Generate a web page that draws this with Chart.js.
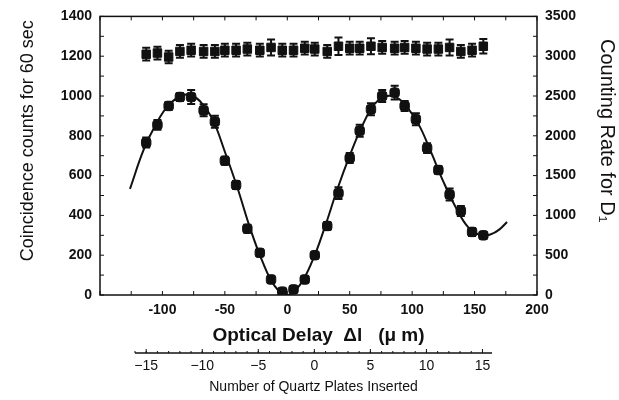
<!DOCTYPE html>
<html>
<head>
<meta charset="utf-8">
<script src="https://cdn.jsdelivr.net/npm/chart.js@4.4.1/dist/chart.umd.min.js"></script>
<style>
body{margin:0;background:#fff;}
#wrap{position:relative;width:619px;height:400px;}
#wrap canvas{position:absolute;left:0;top:0;}
</style>
</head>
<body>
<div id="wrap">
<canvas id="mainchart" width="619" height="400"></canvas>
<canvas id="platechart" width="619" height="400"></canvas>
</div>
<script>
// optical delay of each measured point (um)
const delays = [-113,-104,-95,-86,-77,-67,-58,-50,-41,-32,-22,-13,-4,5,14,22,32,41,50,58,67,76,86,94,103,112,121,130,139,148,157];
// coincidence counts per 60 s
const coincCounts = [766,855,950,995,995,928,871,675,553,333,212,78,17,28,78,200,347,512,688,825,933,1000,1017,950,883,738,628,505,422,317,300];
const coincErr = [25,25,20,20,35,30,30,20,20,20,15,15,12,12,15,15,20,30,25,30,30,30,35,25,30,25,20,30,25,20,15];
// single counting rate of D1
const singlesRate = [3025,3040,2990,3060,3075,3060,3060,3075,3075,3090,3075,3110,3075,3075,3100,3090,3060,3125,3100,3100,3125,3110,3100,3110,3100,3090,3090,3110,3060,3075,3125];
const singlesErr = [80,80,80,80,80,80,80,80,80,80,80,100,80,80,80,80,80,110,80,80,100,80,80,80,80,80,80,100,80,80,90];
// fitted curve
const fitDelay = [-126,-115,-105,-95,-85,-78,-70,-60,-50,-40,-30,-20,-10,0,10,20,30,40,50,60,70,80,88,95,105,115,125,135,145,155,163,170,176];
const fitCounts = [533,730,860,955,1000,1005,975,885,720,540,340,170,45,0,50,170,340,530,700,850,960,1000,990,950,860,720,570,440,340,300,305,330,367];
// tick labels
const delayTicks = [-100,-50,0,50,100,150,200];
const plateTicks = [-15,-10,-5,0,5,10,15];

const ink = '#111';

/** error bars drawn through the dataset scales */
const errorBarPlugin = {
    id:'errorBars',
    afterDatasetsDraw(chart){
        const ctx = chart.ctx;
        chart.data.datasets.forEach((ds)=>{
            if(!ds.errors) return;
            const xs = chart.scales[ds.xAxisID || 'x'];
            const ys = chart.scales[ds.yAxisID || 'y'];
            ctx.save();
            ctx.strokeStyle = ink;
            ctx.lineWidth = 2;
            ds.data.forEach((p,j)=>{
                const e = ds.errors[j];
                const px = xs.getPixelForValue(p.x);
                const top = ys.getPixelForValue(p.y + e);
                const bot = ys.getPixelForValue(p.y - e);
                const w = ds.capWidth || 4;
                ctx.beginPath();
                ctx.moveTo(px,top); ctx.lineTo(px,bot);
                ctx.moveTo(px-w,top); ctx.lineTo(px+w,top);
                ctx.moveTo(px-w,bot); ctx.lineTo(px+w,bot);
                ctx.stroke();
            });
            ctx.restore();
        });
    }
};

/** box frame + inward tick marks */
const framePlugin = {
    id:'frame',
    afterDatasetsDraw(chart, args, opts){
        const ctx = chart.ctx;
        const a = chart.chartArea;
        ctx.save();
        ctx.strokeStyle = ink;
        ctx.lineWidth = 1.5;
        if(opts.box){
            ctx.strokeRect(a.left,a.top,a.right-a.left,a.bottom-a.top);
        }else{
            ctx.beginPath();
            ctx.moveTo(a.left,a.bottom); ctx.lineTo(a.right,a.bottom);
            ctx.stroke();
        }
        ctx.lineWidth = 1;
        (opts.ticks || []).forEach(t=>{
            const s = chart.scales[t.scale];
            for(let v=Math.ceil(s.min/t.step)*t.step; v<=s.max; v+=t.step){
                const p = s.getPixelForValue(v);
                ctx.beginPath();
                if(t.side==='bottom'){ ctx.moveTo(p,a.bottom); ctx.lineTo(p,a.bottom-t.len); }
                if(t.side==='top'){ ctx.moveTo(p,a.top); ctx.lineTo(p,a.top+t.len); }
                if(t.side==='left'){ ctx.moveTo(a.left,p); ctx.lineTo(a.left+t.len,p); }
                if(t.side==='right'){ ctx.moveTo(a.right,p); ctx.lineTo(a.right-t.len,p); }
                ctx.stroke();
            }
        });
        ctx.restore();
    }
};

const tickFont = {family:'Liberation Sans', size:14, weight:'bold'};
const plain = (v)=>String(v);

new Chart('mainchart',{
    type:'scatter',
    data:{
        datasets:[{
            label:'fit',
            type:'line',
            data: fitDelay.map((x,i)=>({x:x,y:fitCounts[i]})),
            borderColor: ink,
            borderWidth: 2,
            pointRadius: 0,
            tension: 0.4,
            fill:false
        },{
            label:'coincidence',
            data: delays.map((x,i)=>({x:x,y:coincCounts[i]})),
            errors: coincErr,
            capWidth: 4,
            pointStyle:'rectRounded',
            pointRadius: 5.5,
            backgroundColor: ink,
            borderColor: ink
        },{
            label:'singles',
            data: delays.map((x,i)=>({x:x,y:singlesRate[i]})),
            errors: singlesErr,
            capWidth: 4,
            yAxisID:'y2',
            pointStyle:'rect',
            pointRadius: 6,
            backgroundColor: ink,
            borderColor: ink
        }]
    },
    options:{
        responsive:false,
        animation:false,
        layout:{padding:{top:15,left:0,right:0,bottom:0}},
        plugins:{
            legend:{display:false},
            tooltip:{enabled:false},
            frame:{
                box:true,
                ticks:[
                    {scale:'x',step:25,len:4,side:'bottom'},
                    {scale:'x',step:25,len:4,side:'top'},
                    {scale:'y',step:100,len:4,side:'left'},
                    {scale:'y2',step:250,len:4,side:'right'}
                ]
            }
        },
        scales:{
            x:{
                type:'linear', min:-150, max:200,
                grid:{display:false, drawTicks:false}, border:{display:false},
                afterBuildTicks:(s)=>{ s.ticks = delayTicks.map(v=>({value:v})); },
                afterFit:(s)=>{ s.height = 105; },
                ticks:{font:tickFont, color:ink, padding:7, maxRotation:0, autoSkip:false, callback:plain},
                title:{display:true, text:'Optical Delay  Δl   (μ m)', color:ink,
                    font:{family:'Liberation Sans', size:19, weight:'bold'}, padding:{top:0,bottom:53}}
            },
            y:{
                position:'left', min:0, max:1400,
                grid:{display:false, drawTicks:false}, border:{display:false},
                afterFit:(s)=>{ s.width = 100; },
                ticks:{stepSize:200, font:tickFont, color:ink, padding:8, callback:plain},
                title:{display:true, text:'      Coincidence counts for 60 sec', color:ink,
                    font:{family:'Liberation Sans', size:18}, padding:{top:17,bottom:0}}
            },
            y2:{
                position:'right', min:0, max:3500,
                grid:{display:false, drawTicks:false}, border:{display:false},
                afterFit:(s)=>{ s.width = 82; },
                ticks:{stepSize:500, font:tickFont, color:ink, padding:8, callback:plain},
                title:{display:true, text:'Counting Rate for D₁         ', color:ink,
                    font:{family:'Liberation Sans', size:20}, padding:{top:0,bottom:0}}
            }
        }
    },
    plugins:[errorBarPlugin, framePlugin]
});

// second axis: number of quartz plates
new Chart('platechart',{
    type:'scatter',
    data:{datasets:[]},
    options:{
        responsive:false,
        animation:false,
        layout:{padding:{top:340,left:135,right:127,bottom:0}},
        plugins:{
            legend:{display:false},
            tooltip:{enabled:false},
            frame:{
                box:false,
                ticks:[
                    {scale:'x',step:5,len:4,side:'bottom'},
                    {scale:'x',step:1,len:2,side:'bottom'}
                ]
            }
        },
        scales:{
            x:{
                type:'linear', min:-16, max:15.85,
                grid:{display:false, drawTicks:false}, border:{display:false},
                afterBuildTicks:(s)=>{ s.ticks = plateTicks.map(v=>({value:v})); },
                afterFit:(s)=>{ s.height = 47; },
                ticks:{font:{family:'Liberation Sans', size:14}, color:ink, padding:5, maxRotation:0, autoSkip:false,
                    callback:(v)=> v<0 ? '\u2212'+Math.abs(v) : String(v)},
                title:{display:true, text:'Number of Quartz Plates Inserted', color:ink,
                    font:{family:'Liberation Sans', size:14}, padding:{top:0,bottom:4}}
            },
            y:{display:false, min:0, max:1}
        }
    },
    plugins:[framePlugin]
});
</script>
</body>
</html>
